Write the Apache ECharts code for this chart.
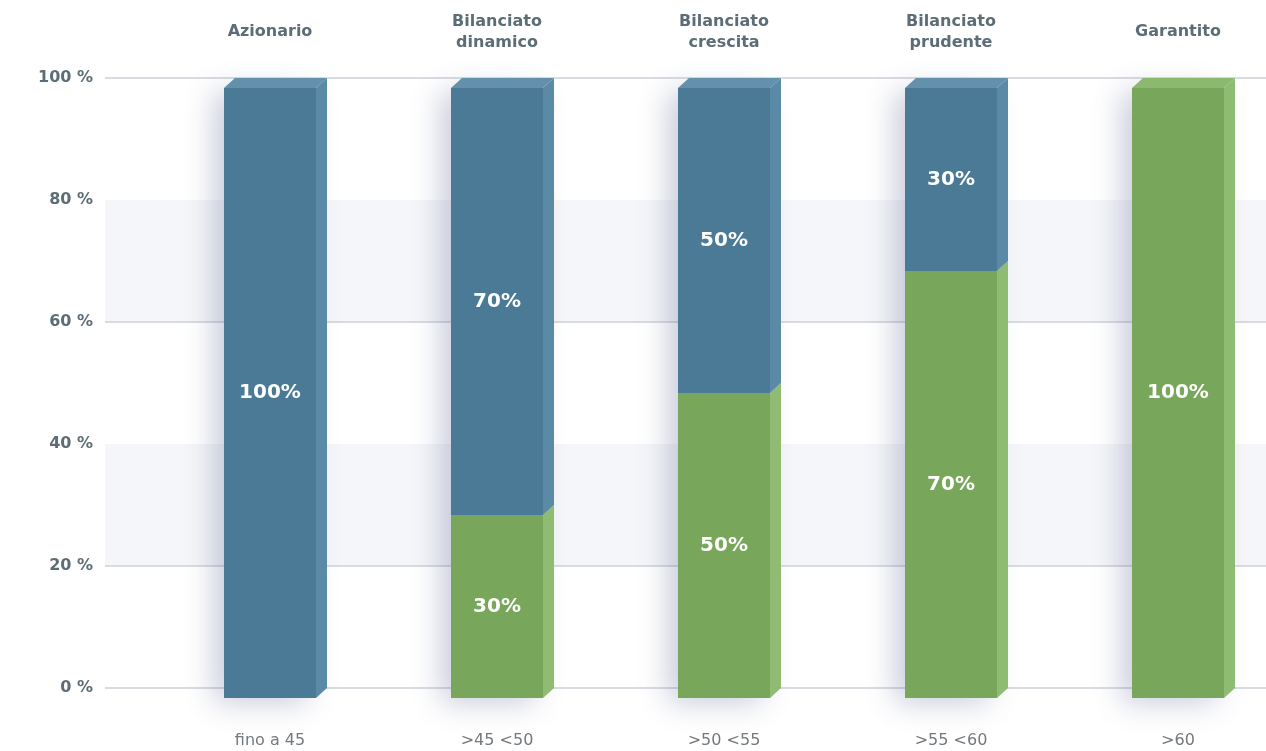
<!DOCTYPE html>
<html><head><meta charset="utf-8">
<script src="https://cdn.jsdelivr.net/npm/echarts@6/dist/echarts.min.js"></script>
<style>html,body{margin:0;padding:0;background:#fff}#c{width:1266px;height:751px}</style>
</head><body><div id="c"></div>
<script>
// ---- data ----
const categories = ['Azionario', 'Bilanciato\ndinamico', 'Bilanciato\ncrescita', 'Bilanciato\nprudente', 'Garantito'];
const ageRanges = ['fino a 45', '>45 <50', '>50 <55', '>55 <60', '>60'];
const quotaAzionaria = [100, 70, 50, 30, 0];       // blue (top)
const quotaObbligazionaria = [0, 30, 50, 70, 100]; // green (bottom)

// ---- build ----
const totals = categories.map((c, i) => quotaAzionaria[i] + quotaObbligazionaria[i]);
const greenData = [], blueData = [], shadowData = [];
categories.forEach((c, i) => {
  if (quotaObbligazionaria[i] > 0) greenData.push([i, 0, quotaObbligazionaria[i], totals[i]]);
  if (quotaAzionaria[i] > 0) blueData.push([i, quotaObbligazionaria[i], quotaObbligazionaria[i] + quotaAzionaria[i], totals[i]]);
  shadowData.push([i, 0, totals[i], totals[i]]);
});

const FW = 92, DX = 11, DY = 10;
function makeRender(front, side, top) {
  return function (params, api) {
    const i = api.value(0), s = api.value(1), e = api.value(2), total = api.value(3);
    const p0 = api.coord([i, s]), p1 = api.coord([i, e]);
    const cx = p0[0];
    const xl = cx - FW / 2, xr = cx + FW / 2;
    const yb = p0[1] + DY, yt = p1[1] + DY;
    const children = [
      { type: 'rect', shape: { x: xl, y: yt, width: FW, height: yb - yt }, style: { fill: front } },
      { type: 'polygon', shape: { points: [[xr, yt], [xr + DX, yt - DY], [xr + DX, yb - DY], [xr, yb]] }, style: { fill: side } }
    ];
    if (e >= total) {
      children.push({ type: 'polygon', shape: { points: [[xl, yt], [xl + DX, yt - DY], [xr + DX, yt - DY], [xr, yt]] }, style: { fill: top } });
    }
    children.push({ type: 'text', style: { text: (e - s) + '%', x: cx, y: (yt + yb) / 2, align: 'center', verticalAlign: 'middle', fill: '#ffffff', font: 'bold 20px "DejaVu Sans"' } });
    return { type: 'group', children };
  };
}
function shadowRender(params, api) {
  const i = api.value(0);
  const p0 = api.coord([i, api.value(1)]), p1 = api.coord([i, api.value(2)]);
  const cx = p0[0];
  return {
    type: 'rect',
    shape: { x: cx - FW / 2, y: p1[1] + DY, width: FW, height: p0[1] - p1[1] },
    style: { fill: '#ffffff', shadowBlur: 28, shadowOffsetX: -9, shadowOffsetY: 4, shadowColor: 'rgba(80,90,140,0.32)' }
  };
}

const textColor = '#5d6d77';
const chart = echarts.init(document.getElementById('c'));
chart.setOption({
  animation: false,
  backgroundColor: '#ffffff',
  grid: [
    { left: 105, right: 0, top: 78, bottom: 63 },
    { left: 270, right: 88, top: 78, bottom: 63 }
  ],
  xAxis: [
    { gridIndex: 0, type: 'value', min: 0, max: 1, show: false },
    {
      gridIndex: 1, type: 'category', boundaryGap: false, data: ageRanges, position: 'bottom',
      axisLine: { show: false }, axisTick: { show: false }, splitLine: { show: false },
      axisLabel: { margin: 53, verticalAlign: 'middle', color: '#74797d', fontSize: 16, fontFamily: 'DejaVu Sans' }
    },
    {
      gridIndex: 1, type: 'category', boundaryGap: false, data: categories, position: 'top',
      axisLine: { show: false }, axisTick: { show: false }, splitLine: { show: false },
      axisLabel: { margin: 46, verticalAlign: 'middle', color: textColor, fontSize: 16, fontWeight: 'bold', fontFamily: 'DejaVu Sans', lineHeight: 21 }
    }
  ],
  yAxis: [
    {
      gridIndex: 0, type: 'value', min: 0, max: 100, interval: 20,
      axisLine: { show: false }, axisTick: { show: false },
      axisLabel: { formatter: '{value} %', margin: 12, color: textColor, fontSize: 16, fontWeight: 'bold', fontFamily: 'DejaVu Sans', verticalAlign: 'middle', padding: [0, 0, 11, 0] },
      splitLine: { show: true, lineStyle: { width: 1.5, color: ['#cdd1d7', '#cdd1d7', 'rgba(0,0,0,0)', '#cdd1d7', 'rgba(0,0,0,0)', '#cdd1d7'] } },
      splitArea: { show: true, areaStyle: { color: ['rgba(0,0,0,0)', '#f5f6f9'] } }
    },
    { gridIndex: 1, type: 'value', min: 0, max: 100, show: false }
  ],
  series: [
    { type: 'custom', name: 'ombra', xAxisIndex: 1, yAxisIndex: 1, z: 1, renderItem: shadowRender, data: shadowData, silent: true },
    { type: 'custom', name: 'Obbligazionaria', xAxisIndex: 1, yAxisIndex: 1, z: 2, renderItem: makeRender('#78a65a', '#8fbb73', '#8cb86f'), data: greenData },
    { type: 'custom', name: 'Azionaria', xAxisIndex: 1, yAxisIndex: 1, z: 3, renderItem: makeRender('#4a7a96', '#5b8aa6', '#6390ab'), data: blueData }
  ]
});
</script></body></html>
